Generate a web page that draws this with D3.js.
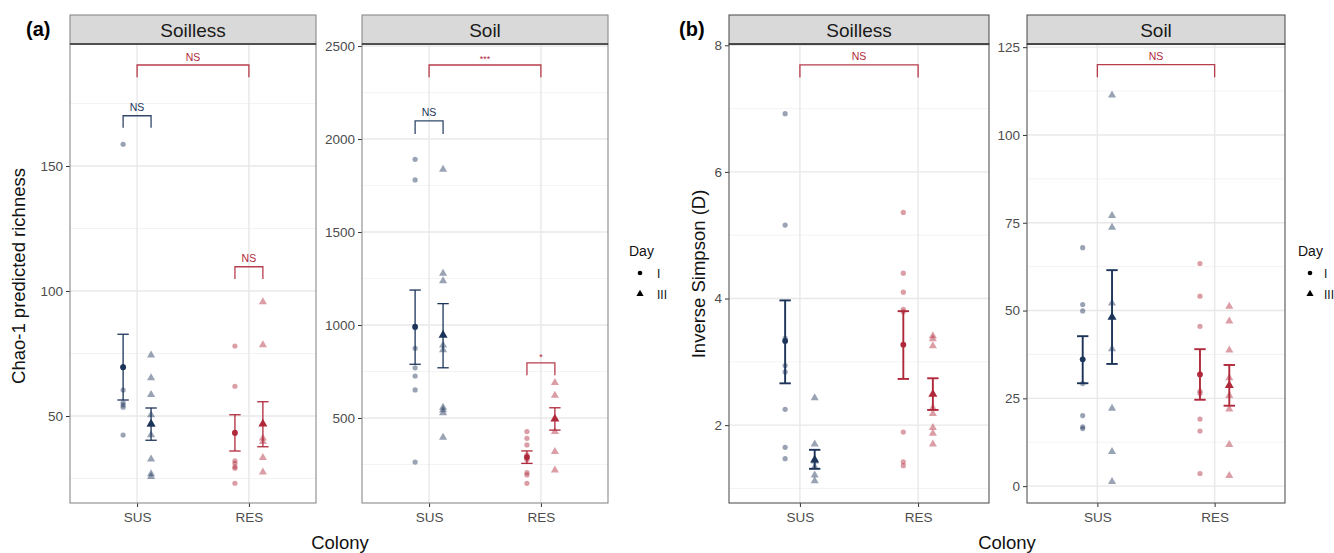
<!DOCTYPE html>
<html>
<head>
<meta charset="utf-8">
<script src="https://cdn.jsdelivr.net/npm/d3@7"></script>
<style>
  body { margin: 0; background: #fff; }
  svg text { font-family: "Liberation Sans", Arial, sans-serif; }
</style>
</head>
<body>
<script>
// groups in order: SUS-I, SUS-III, RES-I, RES-III
var colonies = ["SUS", "RES"];
var days = ["I", "III"];

// (a) Chao-1, soilless
var chaoSoillessPts = [
  [158.7, 69.8, 69.5, 60.4, 55.3, 54.4, 53.5, 42.4],
  [74.3, 65.2, 58.5, 50.4, 46.5, 42.4, 32.7, 26.8, 25.7],
  [78.0, 61.9, 43.0, 32.1, 31.1, 29.7, 29.1, 23.1],
  [95.6, 78.4, 41.1, 39.7, 33.3, 27.5]
];
var chaoSoillessMean = [69.5, 46.8, 43.3, 46.8];
var chaoSoillessLo = [56.4, 40.3, 36.0, 37.7];
var chaoSoillessHi = [82.7, 53.2, 50.5, 55.7];

// (a) Chao-1, soil
var chaoSoilPts = [
  [1891, 1780, 985, 875, 770, 726, 651, 263],
  [1837, 1278, 1237, 892, 866, 557, 543, 528, 396],
  [427, 391, 355, 300, 275, 206, 194, 149],
  [690, 622, 426, 319, 220]
];
var chaoSoilMean = [991, 946, 289, 495];
var chaoSoilLo = [789, 770, 256, 435];
var chaoSoilHi = [1188, 1115, 323, 555];

// (b) Inverse Simpson, soilless
var simpSoillessPts = [
  [6.92, 5.16, 3.37, 2.94, 2.84, 2.25, 1.65, 1.47],
  [2.43, 1.70, 1.43, 1.34, 1.21, 1.12],
  [5.36, 4.40, 4.10, 3.83, 3.79, 1.89, 1.42, 1.36],
  [3.41, 3.36, 3.25, 2.27, 2.18, 1.96, 1.87, 1.70]
];
var simpSoillessMean = [3.33, 1.45, 3.27, 2.49];
var simpSoillessLo = [2.66, 1.31, 2.73, 2.24];
var simpSoillessHi = [3.97, 1.61, 3.80, 2.74];

// (b) Inverse Simpson, soil
var simpSoilPts = [
  [67.9, 51.7, 49.9, 29.2, 20.1, 16.9, 16.4],
  [111.3, 77.0, 73.7, 52.1, 39.1, 22.1, 9.8, 1.3],
  [63.4, 54.1, 45.5, 27.0, 26.4, 19.1, 15.7, 3.6],
  [51.2, 47.0, 38.7, 30.8, 25.8, 21.9, 11.8, 3.0]
];
var simpSoilMean = [36.1, 48.1, 31.8, 28.7];
var simpSoilLo = [29.3, 34.8, 24.6, 22.9];
var simpSoilHi = [42.7, 61.5, 39.0, 34.5];

// brackets: [from group, to group, line y, tip y, label]
var chaoSoillessBrackets = [
  ["SUS", "RES", 190.4, 185.5, "NS"],
  ["SUS-I", "SUS-III", 170.1, 165.3, "NS"],
  ["RES-I", "RES-III", 109.7, 104.8, "NS"]
];
var chaoSoilBrackets = [
  ["SUS", "RES", 2398, 2332, "***"],
  ["SUS-I", "SUS-III", 2098, 2027, "NS"],
  ["RES-I", "RES-III", 796, 730, "*"]
];
var simpSoillessBrackets = [["SUS", "RES", 7.69, 7.49, "NS"]];
var simpSoilBrackets = [["SUS", "RES", 120.0, 116.4, "NS"]];

var navy = "#1c3459", red = "#b0293a";
var colColor = { SUS: navy, RES: red };

var svg = d3.select("body").append("svg")
    .attr("width", 1334)
    .attr("height", 553);

var plotTop = 44, plotBottom = 503;

var panels = [
  { strip: "Soilless", x0: 70, x1: 316, dom: [15.2, 198.8], ticks: [50, 100, 150], minor: [25, 75, 125, 175],
    pts: chaoSoillessPts, mean: chaoSoillessMean, lo: chaoSoillessLo, hi: chaoSoillessHi, br: chaoSoillessBrackets, border: "#8a8a8a", lw: 1.3 },
  { strip: "Soil", x0: 362, x1: 608, dom: [43, 2511], ticks: [500, 1000, 1500, 2000, 2500], minor: [250, 750, 1250, 1750, 2250],
    pts: chaoSoilPts, mean: chaoSoilMean, lo: chaoSoilLo, hi: chaoSoilHi, br: chaoSoilBrackets, border: "#8a8a8a", lw: 1.3 },
  { strip: "Soilless", x0: 729, x1: 989, dom: [0.77, 8.02], ticks: [2, 4, 6, 8], minor: [1, 3, 5, 7],
    pts: simpSoillessPts, mean: simpSoillessMean, lo: simpSoillessLo, hi: simpSoillessHi, br: simpSoillessBrackets, border: "#555", lw: 1.9 },
  { strip: "Soil", x0: 1027, x1: 1285, dom: [-4.8, 125.9], ticks: [0, 25, 50, 75, 100, 125], minor: [12.5, 37.5, 62.5, 87.5, 112.5],
    pts: simpSoilPts, mean: simpSoilMean, lo: simpSoilLo, hi: simpSoilHi, br: simpSoilBrackets, border: "#555", lw: 1.9 }
];

var groups = [];
colonies.forEach(function(c) { days.forEach(function(d) { groups.push({ colony: c, day: d }); }); });

function drawShape(sel, day, cx, cy, r) {
  if (day === "I") {
    return sel.append("circle").attr("cx", cx).attr("cy", cy).attr("r", r);
  }
  return sel.append("path")
      .attr("transform", "translate(" + cx + "," + cy + ")")
      .attr("d", d3.symbol().type(d3.symbolTriangle).size(r * r * 4.2)());
}

panels.forEach(function(p) {
  var x = d3.scaleLinear().domain([0.4, 2.6]).range([p.x0, p.x1]);
  var y = d3.scaleLinear().domain(p.dom).range([plotBottom, plotTop]);
  var g = svg.append("g");

  function gx(name) {
    var parts = name.split("-");
    var ci = colonies.indexOf(parts[0]) + 1;
    if (parts.length > 1) ci += parts[1] === "I" ? -0.125 : 0.125;
    return x(ci);
  }

  // grid
  g.selectAll(".minor").data(p.minor).enter().append("line")
      .attr("x1", p.x0).attr("x2", p.x1)
      .attr("y1", function(d) { return y(d); }).attr("y2", function(d) { return y(d); })
      .attr("stroke", "#f0f0f0").attr("stroke-width", 0.8);
  g.selectAll(".major").data(p.ticks).enter().append("line")
      .attr("x1", p.x0).attr("x2", p.x1)
      .attr("y1", function(d) { return y(d); }).attr("y2", function(d) { return y(d); })
      .attr("stroke", "#e8e8e8").attr("stroke-width", 1.4);
  g.selectAll(".vmajor").data([1, 2]).enter().append("line")
      .attr("x1", function(d) { return x(d); }).attr("x2", function(d) { return x(d); })
      .attr("y1", plotTop).attr("y2", plotBottom)
      .attr("stroke", "#e8e8e8").attr("stroke-width", 1.4);

  // axes
  var ya = g.append("g").attr("transform", "translate(" + p.x0 + ",0)")
      .call(d3.axisLeft(y).tickValues(p.ticks).tickFormat(d3.format("d")).tickSize(4).tickPadding(3));
  ya.select(".domain").remove();
  ya.selectAll(".tick line").attr("stroke", "#333");
  ya.selectAll(".tick text").attr("fill", "#4d4d4d").style("font-size", "13.5px")
      .style("font-family", "Liberation Sans, Arial, sans-serif");

  var xa = g.append("g").attr("transform", "translate(0," + plotBottom + ")")
      .call(d3.axisBottom(x).tickValues([1, 2]).tickFormat(function(d) { return colonies[d - 1]; })
        .tickSize(4).tickPadding(5));
  xa.select(".domain").remove();
  xa.selectAll(".tick line").attr("stroke", "#333");
  xa.selectAll(".tick text").attr("fill", "#4d4d4d").style("font-size", "13.5px")
      .style("font-family", "Liberation Sans, Arial, sans-serif");

  // raw points
  groups.forEach(function(gr, i) {
    var cx = gx(gr.colony + "-" + gr.day);
    p.pts[i].forEach(function(v) {
      drawShape(g, gr.day, cx, y(v), 2.6)
          .attr("fill", colColor[gr.colony]).attr("fill-opacity", 0.45);
    });
  });

  // error bars and means
  groups.forEach(function(gr, i) {
    var cx = gx(gr.colony + "-" + gr.day);
    var col = colColor[gr.colony];
    g.append("line").attr("x1", cx).attr("x2", cx)
        .attr("y1", y(p.lo[i])).attr("y2", y(p.hi[i]))
        .attr("stroke", col).attr("stroke-width", p.lw);
    [p.lo[i], p.hi[i]].forEach(function(v) {
      g.append("line").attr("x1", cx - 5.7).attr("x2", cx + 5.7)
          .attr("y1", y(v)).attr("y2", y(v))
          .attr("stroke", col).attr("stroke-width", p.lw);
    });
    drawShape(g, gr.day, cx, y(p.mean[i]), 2.9).attr("fill", col);
  });

  // significance brackets
  p.br.forEach(function(b) {
    var xa1 = gx(b[0]), xa2 = gx(b[1]);
    var col = b[0].indexOf("SUS-") === 0 ? navy : red;
    var yl = y(b[2]), yt = y(b[3]);
    g.append("path")
        .attr("d", "M" + xa1 + "," + yt + "V" + yl + "H" + xa2 + "V" + yt)
        .attr("fill", "none").attr("stroke", col).attr("stroke-width", 1.3).attr("opacity", 0.9);
    var star = b[4].indexOf("*") === 0;
    g.append("text")
        .attr("x", (xa1 + xa2) / 2)
        .attr("y", star ? yl - 3 : yl - 4.5)
        .attr("text-anchor", "middle")
        .attr("fill", col)
        .style("font-size", star ? "9px" : "10.5px")
        .text(b[4]);
  });

  // panel border
  g.append("rect").attr("x", p.x0).attr("y", plotTop).attr("width", p.x1 - p.x0).attr("height", plotBottom - plotTop)
      .attr("fill", "none").attr("stroke", p.border).attr("stroke-width", 1.1);

  // strip
  g.append("rect").attr("x", p.x0).attr("y", 15).attr("width", p.x1 - p.x0).attr("height", 29)
      .attr("fill", "#d9d9d9").attr("stroke", p.border).attr("stroke-width", 1.1);
  g.append("line").attr("x1", p.x0).attr("x2", p.x1).attr("y1", plotTop).attr("y2", plotTop)
      .attr("stroke", "#333").attr("stroke-width", 1.6);
  g.append("text").attr("x", (p.x0 + p.x1) / 2).attr("y", 36.5)
      .attr("text-anchor", "middle").attr("fill", "#1a1a1a")
      .style("font-size", "19px").text(p.strip);
});

// titles, tags and legends
function rotTitle(cx, cy, txt) {
  svg.append("text").attr("transform", "translate(" + cx + "," + cy + ") rotate(-90)")
      .attr("text-anchor", "middle").attr("fill", "#111")
      .style("font-size", "18.5px").text(txt);
}
rotTitle(25, 276, "Chao-1 predicted richness");
rotTitle(705, 274, "Inverse Simpson (D)");

[[340, "Colony"], [1007, "Colony"]].forEach(function(t) {
  svg.append("text").attr("x", t[0]).attr("y", 549).attr("text-anchor", "middle")
      .attr("fill", "#111").style("font-size", "18.5px").text(t[1]);
});

[[26, "(a)"], [679, "(b)"]].forEach(function(t) {
  svg.append("text").attr("x", t[0]).attr("y", 36).attr("fill", "#000")
      .style("font-size", "20px").style("font-weight", "bold").text(t[1]);
});

[[629, 640, 657], [1298, 1310, 1324]].forEach(function(l) {
  svg.append("text").attr("x", l[0]).attr("y", 256).attr("fill", "#111")
      .style("font-size", "14px").text("Day");
  days.forEach(function(d, i) {
    var cy = 273 + i * 21;
    drawShape(svg, d, l[1], cy, 2.3).attr("fill", "#000");
    svg.append("text").attr("x", l[2]).attr("y", cy + 4.5).attr("fill", "#111")
        .style("font-size", "12px").text(d);
  });
});
</script>
</body>
</html>
